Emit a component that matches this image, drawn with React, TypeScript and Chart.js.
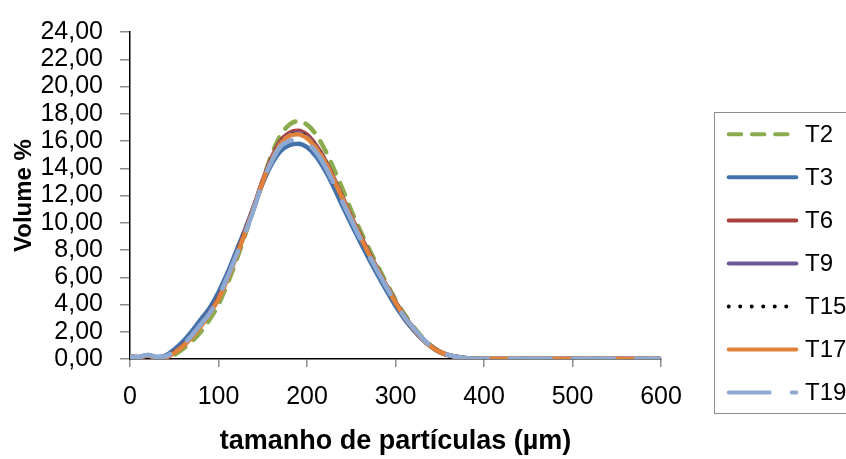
import React, { useEffect, useRef } from 'react';
import { Chart, registerables } from 'chart.js';

Chart.register(...registerables);

// particle size (µm)
const sizes = [
  0, 10, 20, 30, 40, 50, 60, 70, 80, 90, 100, 110, 120, 130, 140, 150, 160, 170, 180, 190, 200,
  210, 220, 230, 240, 250, 260, 270, 280, 290, 300, 310, 320, 330, 340, 350, 360, 370, 380, 390, 400,
  450, 500, 550, 600,
];

const seriesNames = ['T2', 'T3', 'T6', 'T9', 'T15', 'T17', 'T19'];

const T2 = [0.15,0.12,0.25,0.10,0.10,0.30,0.75,1.30,2.00,2.90,4.00,5.50,7.20,9.10,11.10,13.10,15.00,16.40,17.20,17.45,17.20,16.50,15.40,14.00,12.50,10.90,9.45,8.10,6.80,5.55,4.35,3.30,2.40,1.60,1.00,0.55,0.30,0.15,0.07,0.02,0.00,0,0,0,0];
const T3 = [0.15,0.15,0.30,0.15,0.25,0.70,1.30,2.05,2.90,3.75,4.90,6.30,7.90,9.50,11.20,12.90,14.30,15.25,15.70,15.80,15.55,14.90,13.90,12.65,11.25,9.90,8.60,7.35,6.15,5.00,3.90,2.95,2.15,1.45,0.90,0.50,0.28,0.14,0.06,0.02,0.00,0,0,0,0];
const T6 = [0.15,0.13,0.26,0.12,0.15,0.50,1.00,1.70,2.50,3.40,4.50,5.95,7.60,9.35,11.20,13.10,14.75,16.00,16.60,16.75,16.45,15.70,14.65,13.30,11.90,10.45,9.10,7.80,6.55,5.35,4.20,3.15,2.28,1.52,0.94,0.53,0.29,0.14,0.06,0.02,0.00,0,0,0,0];
const T9 = [0.15,0.13,0.25,0.12,0.15,0.50,1.02,1.72,2.52,3.42,4.52,5.95,7.60,9.32,11.15,13.02,14.65,15.85,16.45,16.60,16.30,15.58,14.55,13.22,11.82,10.38,9.03,7.74,6.50,5.30,4.17,3.12,2.26,1.51,0.93,0.52,0.28,0.14,0.06,0.02,0.00,0,0,0,0];
const T15 = [0.15,0.13,0.25,0.12,0.13,0.47,0.98,1.65,2.45,3.35,4.45,5.90,7.55,9.30,11.12,13.00,14.62,15.82,16.40,16.55,16.25,15.53,14.52,13.20,11.80,10.36,9.01,7.72,6.50,5.30,4.16,3.11,2.25,1.50,0.92,0.52,0.28,0.14,0.06,0.02,0.00,0,0,0,0];
const T17 = [0.15,0.13,0.25,0.12,0.12,0.45,0.95,1.60,2.40,3.30,4.40,5.85,7.50,9.25,11.10,13.00,14.60,15.80,16.38,16.50,16.20,15.50,14.50,13.20,11.80,10.35,9.00,7.70,6.50,5.30,4.15,3.10,2.25,1.50,0.92,0.52,0.28,0.14,0.06,0.02,0.00,0,0,0,0];
const T19 = [0.15,0.15,0.30,0.15,0.20,0.55,1.05,1.75,2.55,3.35,4.55,6.00,7.60,9.20,11.00,13.00,14.50,15.60,16.00,16.10,15.85,15.20,14.20,12.90,11.55,10.20,8.85,7.60,6.40,5.25,4.10,3.10,2.30,1.55,0.95,0.55,0.30,0.15,0.07,0.02,0.00,0,0,0,0];

const seriesValues = [T2, T3, T6, T9, T15, T17, T19];

const xTicks = [0, 100, 200, 300, 400, 500, 600];
const yTicks = [0, 2, 4, 6, 8, 10, 12, 14, 16, 18, 20, 22, 24];

const xTitle = 'tamanho de partículas (µm)';
const yTitle = 'Volume %';

// styles
const colors = ['#8BAC4E', '#4371AA', '#AA403C', '#6E5896', '#000000', '#E1823A', '#8FAAD2'];
const dashes: number[][] = [[12.5, 10.7], [], [], [], [0.01, 11.5], [], [41, 22]];
const FONT = '"Liberation Sans", Arial, Helvetica, sans-serif';

const legendPlugin = {
  id: 'boxLegend',
  afterDraw(chart: any) {
    const ctx = chart.ctx as CanvasRenderingContext2D;
    const area = chart.chartArea;
    const boxLeft = Math.round(area.right + 53) + 0.5;
    const boxTop = 112.5;
    const boxH = 301;
    ctx.save();
    ctx.setLineDash([]);
    ctx.strokeStyle = '#8c8c8c';
    ctx.lineWidth = 1;
    ctx.strokeRect(boxLeft, boxTop, 300, boxH);
    const x0 = boxLeft + 14.2;
    const x1 = boxLeft + 81.8;
    seriesNames.forEach((name, i) => {
      const y = 134.3 + i * 43.05;
      ctx.save();
      ctx.strokeStyle = colors[i];
      ctx.lineWidth = 4;
      ctx.lineCap = 'round';
      ctx.setLineDash(dashes[i]);
      ctx.beginPath();
      ctx.moveTo(x0, y);
      ctx.lineTo(x1, y);
      ctx.stroke();
      ctx.restore();
      ctx.fillStyle = '#000';
      ctx.font = `24px ${FONT}`;
      ctx.textBaseline = 'middle';
      ctx.textAlign = 'left';
      ctx.fillText(name, boxLeft + 90.5, y + 1);
    });
    ctx.restore();
  },
};

export default function App() {
  const ref = useRef<HTMLCanvasElement | null>(null);

  useEffect(() => {
    document.body.style.margin = '0';
    const canvas = ref.current;
    if (!canvas) return;
    const datasets = seriesNames.map((name, i) => ({
      label: name,
      data: sizes.map((s, j) => ({ x: s, y: seriesValues[i][j] })),
      borderColor: colors[i],
      backgroundColor: colors[i],
      borderWidth: 4.5,
      borderDash: dashes[i],
      borderCapStyle: 'round' as const,
      borderJoinStyle: 'round' as const,
      pointRadius: 0,
      pointHoverRadius: 0,
      cubicInterpolationMode: 'monotone' as const,
      fill: false,
      order: seriesNames.length - 1 - i,
    }));

    const chart = new Chart(canvas, {
      type: 'line',
      data: { datasets },
      plugins: [legendPlugin],
      options: {
        animation: false,
        responsive: false,
        maintainAspectRatio: false,
        layout: { padding: { left: 0, right: 185, top: 26, bottom: 0 } },
        plugins: {
          legend: { display: false },
          tooltip: { enabled: false },
        },
        scales: {
          x: {
            type: 'linear',
            min: 0,
            max: 600,
            afterFit: (s: any) => { s.height = 100; },
            afterBuildTicks: (s: any) => { s.ticks = xTicks.map((v) => ({ value: v })); },
            ticks: {
              color: '#000',
              font: { family: FONT, size: 25 },
              padding: 15,
              maxRotation: 0,
              autoSkip: false,
              callback: (v: any) => String(v),
            },
            grid: { drawOnChartArea: false, drawTicks: true, tickLength: 8, color: '#8c8c8c', lineWidth: 1.5 },
            border: { display: true, color: '#000', width: 1.5 },
            title: {
              display: true,
              text: xTitle,
              color: '#000',
              font: { family: FONT, size: 27, weight: 'bold' },
              padding: { top: 0, bottom: 1 },
            },
          },
          y: {
            type: 'linear',
            min: 0,
            max: 24,
            afterFit: (s: any) => { s.width = 130; },
            afterBuildTicks: (s: any) => { s.ticks = yTicks.map((v) => ({ value: v })); },
            ticks: {
              color: '#000',
              font: { family: FONT, size: 25 },
              padding: 17,
              autoSkip: false,
              callback: (v: any) => Number(v).toFixed(2).replace('.', ','),
            },
            grid: { drawOnChartArea: false, drawTicks: true, tickLength: 10, color: '#8c8c8c', lineWidth: 1.5 },
            border: { display: true, color: '#000', width: 1.5 },
            title: {
              display: true,
              text: yTitle,
              color: '#000',
              font: { family: FONT, size: 24, weight: 'bold' },
              padding: { top: 10, bottom: 0 },
            },
          },
        },
      },
    });
    return () => chart.destroy();
  }, []);

  return (
    <div style={{ width: 846, height: 459 }}>
      <canvas ref={ref} width={846} height={459} style={{ display: 'block' }} />
    </div>
  );
}
